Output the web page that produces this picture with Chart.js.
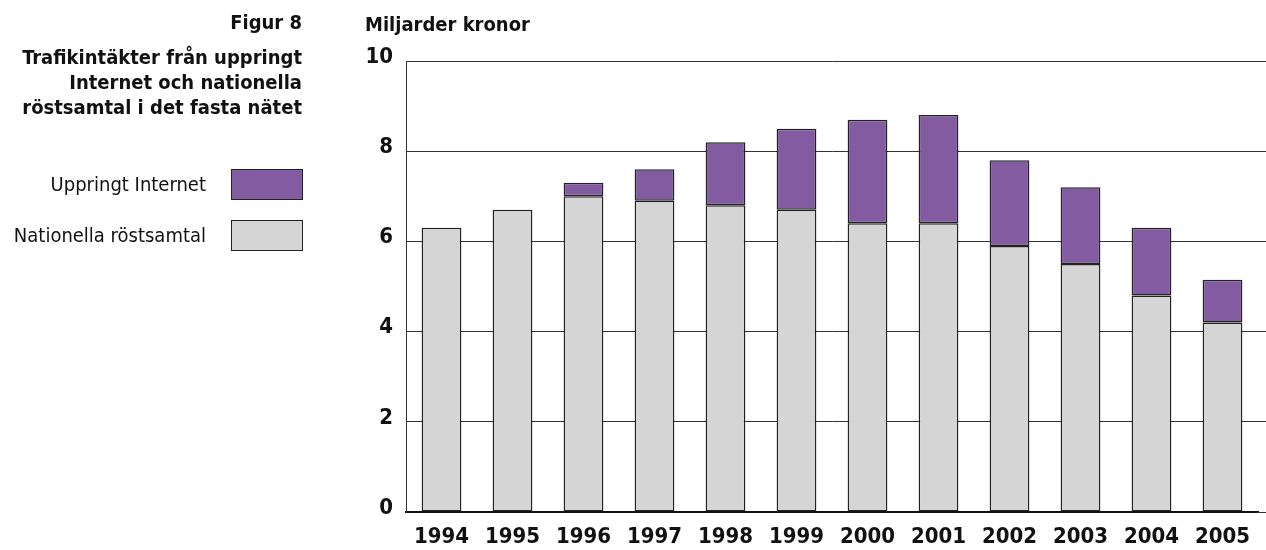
<!DOCTYPE html>
<html>
<head>
<meta charset="utf-8">
<script src="https://cdn.jsdelivr.net/npm/chart.js@4"></script>
<style>
body { margin: 0; background: #fff; }
#wrap { position: relative; width: 1266px; height: 550px; font-family: "DejaVu Sans Condensed", "DejaVu Sans", sans-serif; color: #111; }
#chart { position: absolute; left: 0; top: 0; }
.txt { position: absolute; right: 964px; text-align: right; font-size: 20px; line-height: 25px; white-space: nowrap; }
.bold { font-weight: bold; }
.box { position: absolute; left: 231px; width: 70px; height: 29px; border: 1px solid #222; }
#unit { position: absolute; left: 365px; top: 12px; font-size: 20px; line-height: 25px; font-weight: bold; }
</style>
</head>
<body>
<div id="wrap">
  <canvas id="chart" width="1266" height="550"></canvas>
  <div class="txt bold" style="top:10px">Figur 8</div>
  <div class="txt bold" style="top:45px">Trafikintäkter från uppringt<br>Internet och nationella<br>röstsamtal i det fasta nätet</div>
  <div class="txt" style="top:172px; right:1060px">Uppringt Internet</div>
  <div class="box" style="top:169px; background:#825BA0"></div>
  <div class="txt" style="top:223px; right:1060px">Nationella röstsamtal</div>
  <div class="box" style="top:220px; background:#D5D5D5"></div>
  <div id="unit">Miljarder kronor</div>
</div>
<script>
// data
const years = ['1994', '1995', '1996', '1997', '1998', '1999', '2000', '2001', '2002', '2003', '2004', '2005'];
const nationella = [6.3, 6.7, 7.0, 6.9, 6.8, 6.7, 6.4, 6.4, 5.9, 5.5, 4.8, 4.2];
const internet = [0, 0, 0.3, 0.7, 1.4, 1.8, 2.3, 2.4, 1.9, 1.7, 1.5, 0.95];
const yTicks = [0, 2, 4, 6, 8, 10];

const tickFont = { family: '"DejaVu Sans Condensed", "DejaVu Sans", sans-serif', size: 22, weight: 'bold' };

// y grid lines run on to the right edge of the page
const gridToEdge = {
  id: 'gridToEdge',
  beforeDatasetsDraw(chart) {
    const ctx = chart.ctx;
    const y = chart.scales.y;
    ctx.save();
    ctx.strokeStyle = '#333';
    ctx.lineWidth = 1;
    yTicks.forEach(v => {
      const py = Math.round(y.getPixelForValue(v) - 0.5) + 0.5;
      ctx.beginPath();
      ctx.moveTo(chart.chartArea.right - 1, py);
      ctx.lineTo(chart.width, py);
      ctx.stroke();
    });
    ctx.restore();
  }
};

const revData = {
  labels: years,
  datasets: [{
    label: 'Nationella röstsamtal',
    data: nationella,
    backgroundColor: '#D5D5D5',
    borderColor: '#222',
    borderWidth: 1.5,
    borderSkipped: false
  }, {
    label: 'Uppringt Internet',
    data: internet,
    backgroundColor: '#825BA0',
    borderColor: '#222',
    borderWidth: 1.5,
    borderSkipped: false
  }]
};

const revOptions = {
  responsive: false,
  animation: false,
  layout: { padding: { top: 61, right: 8, left: 0, bottom: 0 } },
  datasets: { bar: { barPercentage: 0.56, categoryPercentage: 1 } },
  scales: {
    x: {
      stacked: true,
      grid: { display: false },
      border: { display: true, color: '#111', width: 2 },
      ticks: { color: '#111', font: tickFont, padding: 4, maxRotation: 0 },
      afterFit: s => { s.height = 38; }
    },
    y: {
      stacked: true,
      min: 0,
      max: 10,
      grid: { color: '#333', lineWidth: 1, drawTicks: false },
      border: { display: true, color: '#333', width: 1 },
      ticks: { stepSize: 2, color: '#111', font: tickFont, padding: 13, labelOffset: -4 },
      afterFit: s => { s.width = 406; }
    }
  },
  plugins: {
    legend: { display: false },
    tooltip: { enabled: false }
  }
};

new Chart(document.getElementById('chart'), {
  type: 'bar',
  data: revData,
  options: revOptions,
  plugins: [gridToEdge]
});
</script>
</body>
</html>
